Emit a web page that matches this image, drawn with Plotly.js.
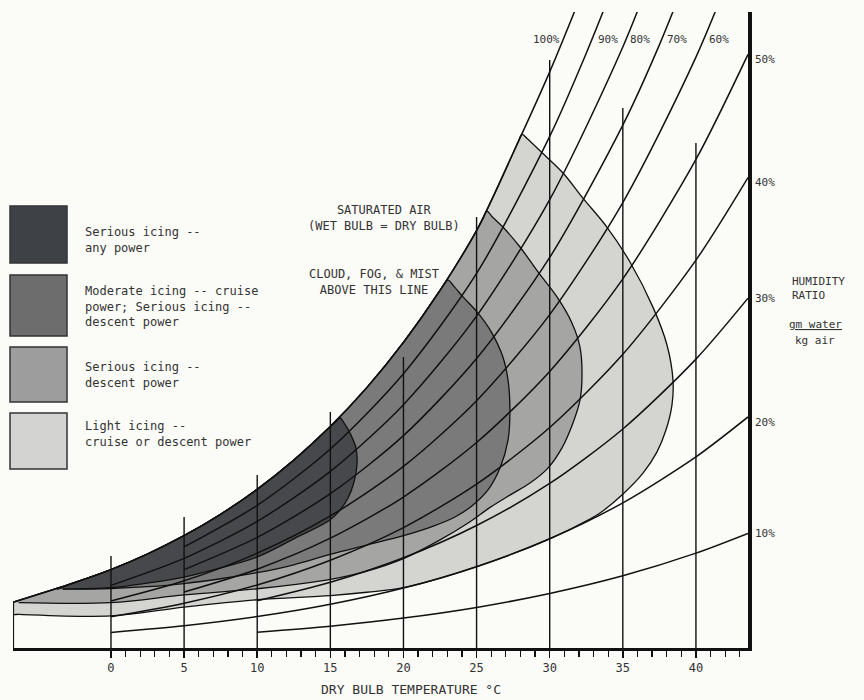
<!DOCTYPE html>
<html>
<head>
<meta charset="utf-8">
<script src="https://cdn.plot.ly/plotly-3.0.1.min.js"></script>
<style>html,body{margin:0;padding:0;background:#fbfbf8;}</style>
</head>
<body>
<div id="chart" style="width:864px;height:700px;"></div>
<script>
// ---------------- DATA (dry bulb °C, humidity ratio g water / kg air) ----------------
const rh100T = [-6.7, -2.5, 0, 2.5, 5, 7.5, 10, 12.5, 15, 17.5, 20, 22.5, 25, 27.5, 30, 32.5];
const rh100W = [2.2, 3.14, 3.77, 4.52, 5.40, 6.43, 7.63, 9.03, 10.65, 12.52, 14.69, 17.19, 20.07, 23.8, 27.7, 32.0];
const rh90T = [5, 10, 15, 20, 25, 30, 32.5, 35];
const rh90W = [4.86, 6.86, 9.57, 13.19, 18.01, 24.6, 28.6, 33.0];
const rh80T = [0, 5, 10, 15, 20, 25, 30, 35, 37.5];
const rh80W = [3.01, 4.31, 6.09, 8.49, 11.70, 15.96, 21.56, 28.90, 33.36];
const rh70T = [5, 10, 15, 20, 25, 30, 35, 37.5, 40];
const rh70W = [3.77, 5.32, 7.42, 10.21, 13.92, 18.78, 25.14, 29.0, 33.40];
const rh60T = [0, 5, 10, 15, 20, 25, 30, 35, 40, 43.56];
const rh60W = [2.26, 3.23, 4.56, 6.35, 8.73, 11.89, 16.03, 21.42, 28.41, 34.56];
const rh50T = [5, 10, 15, 20, 25, 30, 35, 40, 43.56];
const rh50W = [2.69, 3.79, 5.28, 7.26, 9.88, 13.30, 17.75, 23.49, 28.54];
const rh40T = [0, 5, 10, 15, 20, 25, 30, 35, 40, 43.56];
const rh40W = [1.50, 2.15, 3.03, 4.22, 5.79, 7.88, 10.60, 14.12, 18.65, 22.62];
const rh30T = [10, 15, 20, 25, 30, 35, 40, 43.56];
const rh30W = [2.27, 3.16, 4.34, 5.89, 7.91, 10.53, 13.89, 16.82];
const rh20T = [0, 5, 10, 15, 20, 25, 30, 35, 40, 43.56];
const rh20W = [0.75, 1.07, 1.51, 2.10, 2.88, 3.91, 5.25, 6.98, 9.19, 11.11];
const rh10T = [10, 15, 20, 25, 30, 35, 40, 43.56];
const rh10W = [0.76, 1.05, 1.44, 1.95, 2.62, 3.47, 4.56, 5.51];

// icing regions, each as a closed outline (saturation edge, arc, lower bound)
const lightT = [-6.7, -6.3, -2.5, 0, 2.5, 5, 7.5, 10, 12.5, 15, 17.5, 20, 22.5, 25, 27.5, 27.85, 28.1, 28.45, 29.5, 30.91, 32.27, 33.91, 35.49, 37.06, 38.02, 38.43, 38.36, 37.95, 37.33, 36.38, 34.94, 33.44, 32.75, 30, 25, 20, 17.5, 15, 10, 5, 0, -6.3, -6.7, -6.7];
const lightW = [2.2, 2.29, 3.14, 3.77, 4.52, 5.40, 6.43, 7.63, 9.03, 10.65, 12.52, 14.69, 17.19, 20.07, 23.8, 24.35, 24.7, 24.5, 23.8, 22.84, 21.63, 20.24, 18.56, 16.39, 14.57, 12.88, 11.68, 10.48, 9.42, 8.41, 7.36, 6.49, 6.20, 5.25, 3.91, 2.9, 2.68, 2.52, 2.32, 1.97, 1.54, 1.62, 1.63, 2.1];
const seriousT = [-6.7, -6.3, -2.5, 0, 2.5, 5, 7.5, 10, 12.5, 15, 17.5, 20, 22.5, 25, 25.45, 25.71, 26.05, 26.8, 27.97, 29.2, 30.5, 31.52, 32.07, 32.21, 32.07, 31.59, 30.84, 29.88, 28.65, 27.28, 25.9, 24.5, 22.5, 20, 17.5, 15, 12.5, 10, 5, 0, -6.3];
const seriousW = [2.2, 2.29, 3.14, 3.77, 4.52, 5.40, 6.43, 7.63, 9.03, 10.65, 12.52, 14.69, 17.19, 20.07, 20.65, 21.0, 20.75, 20.24, 19.28, 18.08, 16.88, 15.63, 14.47, 13.13, 11.92, 10.82, 9.62, 8.65, 7.93, 7.35, 6.75, 6.05, 5.2, 4.3, 3.7, 3.3, 3.05, 2.85, 2.55, 2.18, 2.18];
const moderateT = [-3.7, -3.3, -2.5, 0, 2.5, 5, 7.5, 10, 12.5, 15, 17.5, 20, 22.5, 22.75, 23.04, 23.5, 24.07, 25.09, 26.05, 26.8, 27.15, 27.28, 27.15, 26.6, 25.78, 24.68, 23.52, 22, 20, 17.5, 15, 12.5, 10, 7.5, 5, 2.5, 0, -3.3];
const moderateW = [2.83, 2.93, 3.14, 3.77, 4.52, 5.40, 6.43, 7.63, 9.03, 10.65, 12.52, 14.69, 17.19, 17.45, 17.69, 17.35, 16.88, 16.11, 15.14, 13.99, 12.88, 11.44, 10.0, 8.65, 7.60, 6.83, 6.30, 5.85, 5.4, 4.95, 4.5, 4.0, 3.62, 3.33, 3.1, 2.95, 2.86, 2.83];
const darkT = [-3.7, -3.3, -2.5, 0, 2.5, 5, 7.5, 10, 12.5, 15, 15.35, 15.66, 16.0, 16.34, 16.75, 16.82, 16.62, 16.21, 15.66, 14.97, 12.5, 10, 7.5, 5, 2.5, 0, -3.3];
const darkW = [2.83, 2.93, 3.14, 3.77, 4.52, 5.40, 6.43, 7.63, 9.03, 10.65, 10.86, 11.06, 10.75, 10.34, 9.62, 8.80, 7.98, 7.21, 6.63, 6.15, 5.25, 4.38, 3.85, 3.41, 3.12, 2.9, 2.84];

// vertical temperature lines and their tops
const gridT = [0, 5, 10, 15, 20, 25, 30, 35, 40];
const gridTop = [4.42, 6.30, 8.32, 11.35, 13.99, 20.72, 28.27, 25.96, 24.28];

const tickVals = [0, 5, 10, 15, 20, 25, 30, 35, 40];
const tickText = ['0', '5', '10', '15', '20', '25', '30', '35', '40'];
const legendLabels = [
  'Serious icing --<br>any power',
  'Moderate icing -- cruise<br>power; Serious icing --<br>descent power',
  'Serious icing --<br>descent power',
  'Light icing --<br>cruise or descent power'
];
const legendColors = ['#3e4146', '#6d6d6d', '#9d9d9d', '#d3d3d1'];
const regionColors = ['#d4d4d1', '#a5a5a3', '#7a7a7a', '#47484b'];

// ---------------- BUILD ----------------
const FONT = 'DejaVu Sans Mono, monospace';
const INK = '#111';
const TXT = '#333';
const L = 13, R = 748, TOP = 12, B = 648;
const px = x => (x - L) / (R - L);
const py = y => (B - y) / (B - TOP);

function region(xs, ys, color) {
  return {x: xs, y: ys, mode: 'lines', fill: 'toself', fillcolor: color,
    line: {color: INK, width: 1.3, shape: 'spline', smoothing: 1}, hoverinfo: 'skip', showlegend: false};
}

const traces = [];
traces.push(region(lightT, lightW, regionColors[0]));
traces.push(region(seriousT, seriousW, regionColors[1]));
traces.push(region(moderateT, moderateW, regionColors[2]));
traces.push(region(darkT, darkW, regionColors[3]));

const curves = [[rh100T, rh100W], [rh90T, rh90W], [rh80T, rh80W], [rh70T, rh70W], [rh60T, rh60W],
                [rh50T, rh50W], [rh40T, rh40W], [rh30T, rh30W], [rh20T, rh20W], [rh10T, rh10W]];
curves.forEach(c => traces.push({x: c[0], y: c[1], mode: 'lines',
  line: {color: INK, width: 1.5, shape: 'spline', smoothing: 0.8}, hoverinfo: 'skip', showlegend: false}));

const vx = [], vy = [];
gridT.forEach((t, i) => { vx.push(t, t, null); vy.push(0, gridTop[i], null); });
traces.push({x: vx, y: vy, mode: 'lines', line: {color: INK, width: 1.4}, hoverinfo: 'skip', showlegend: false});
traces.push({x: [rh100T[0], rh100T[0]], y: [0, rh100W[0]], mode: 'lines', line: {color: INK, width: 2.2}, hoverinfo: 'skip', showlegend: false});

const minorVals = [];
for (let t = 1; t <= 43; t++) if (t % 5 !== 0) minorVals.push(t);

const ann = [];
function txt(text, x, y, opts) {
  ann.push(Object.assign({text: text, x: px(x), y: py(y), xref: 'paper', yref: 'paper', showarrow: false,
    xanchor: 'center', yanchor: 'middle', font: {family: FONT, size: 12, color: TXT}}, opts || {}));
}
const small = {family: FONT, size: 11, color: TXT};
const rhTop = ['100%', '90%', '80%', '70%', '60%'];
const rhTopX = [546, 608, 640, 677, 719];
rhTop.forEach((s, i) => txt(s, rhTopX[i], 40, {font: small}));
const rhRight = ['50%', '40%', '30%', '20%', '10%'];
const rhRightY = [60, 182, 298, 422, 533];
rhRight.forEach((s, i) => txt(s, 753, rhRightY[i], {xanchor: 'left', font: small}));
txt('HUMIDITY<br>RATIO', 790, 288, {xanchor: 'left', align: 'left', font: small});
txt('<u>gm water</u>', 815, 324, {font: small});
txt('kg air', 815, 340, {font: small});
txt('SATURATED AIR<br>(WET BULB = DRY BULB)', 384, 218);
txt('CLOUD, FOG, & MIST<br>ABOVE THIS LINE', 374, 282);
txt('DRY BULB TEMPERATURE °C', 411, 689, {font: {family: FONT, size: 13, color: TXT}});

const boxY = [[206, 263], [275, 336], [347, 402], [413, 469]];
const textY = [240, 307, 375, 434];
const shapes = [];
legendLabels.forEach((lab, i) => {
  shapes.push({type: 'rect', xref: 'paper', yref: 'paper', x0: px(10), x1: px(67), y0: py(boxY[i][1]), y1: py(boxY[i][0]),
    fillcolor: legendColors[i], line: {color: '#333', width: 1.5}});
  txt(lab, 83, textY[i], {xanchor: 'left', align: 'left'});
});

const layout = {
  width: 864, height: 700,
  margin: {l: L, r: 864 - R, t: TOP, b: 700 - B},
  paper_bgcolor: '#fbfbf8', plot_bgcolor: '#fbfbf8',
  showlegend: false,
  xaxis: {range: [-6.7, 43.56], showgrid: false, zeroline: false, showline: true, linewidth: 3, linecolor: INK,
    tickmode: 'array', tickvals: tickVals, ticktext: tickText, ticks: 'outside', ticklen: 7, tickwidth: 1.5, tickcolor: INK,
    tickfont: {family: FONT, size: 12, color: TXT},
    minor: {tickmode: 'array', tickvals: minorVals, ticks: 'outside', ticklen: 6, tickwidth: 1.2, tickcolor: INK, showgrid: false}},
  yaxis: {range: [0, 30.58], side: 'right', showgrid: false, zeroline: false, showline: true, linewidth: 4, linecolor: INK,
    showticklabels: false, ticks: ''},
  annotations: ann,
  shapes: shapes
};

Plotly.newPlot('chart', traces, layout, {staticPlot: true, displayModeBar: false});
</script>
</body>
</html>
